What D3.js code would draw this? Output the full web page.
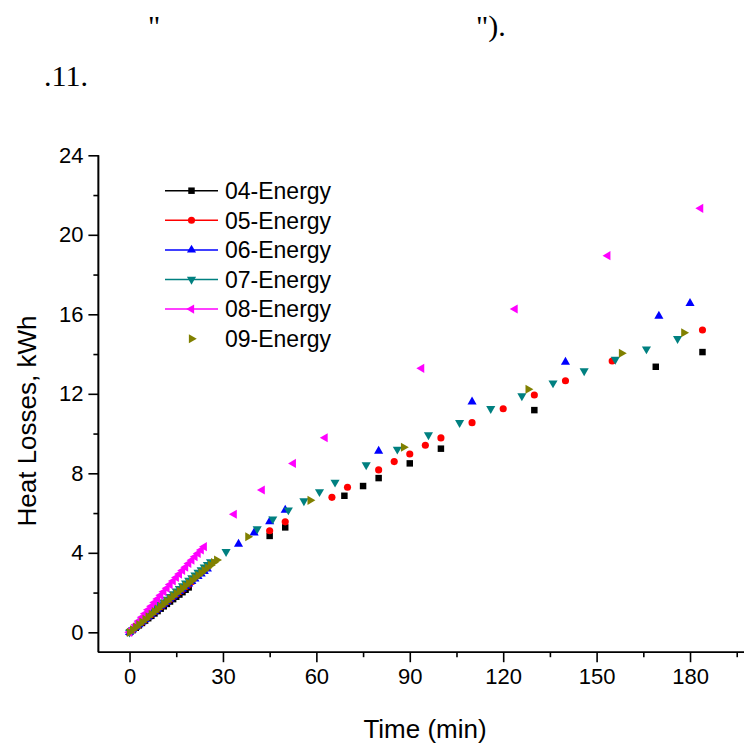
<!DOCTYPE html>
<html>
<head>
<meta charset="utf-8">
<script src="https://cdn.jsdelivr.net/npm/d3@7"></script>
<style>
  body { margin: 0; background: #fff; }
  svg { display: block; }
  text { font-family: "Liberation Sans", Arial, sans-serif; fill: #000; }
  .serif { font-family: "Liberation Serif", "Times New Roman", serif; }
</style>
</head>
<body>
<div id="chart"></div>
<script>
// Series names and colours
var seriesNames = ["04-Energy", "05-Energy", "06-Energy", "07-Energy", "08-Energy", "09-Energy"];
var seriesColors = ["#000000", "#ff0000", "#0000ff", "#008080", "#ff00ff", "#808000"];

// time (min) / heat losses (kWh)
var t04 = [0,1,2,3,4,5,6,7,8,9,10,11,12,13,14,15,16,17,18,19,45,50,69,75,80,90,100,130,169,184];
var e04 = [0,0.11,0.23,0.35,0.47,0.59,0.71,0.83,0.95,1.07,1.19,1.31,1.43,1.55,1.67,1.79,1.90,2.02,2.14,2.26,4.85,5.28,6.87,7.36,7.76,8.50,9.24,11.18,13.36,14.10];

var t05 = [0,1,2,3,4,5,6,7,8,9,10,11,12,13,14,15,16,17,18,19,20,45,50,65,70,80,85,90,95,100,110,120,130,140,155,184];
var e05 = [0,0.12,0.25,0.38,0.51,0.64,0.77,0.90,1.03,1.16,1.29,1.41,1.54,1.66,1.79,1.91,2.04,2.16,2.29,2.41,2.54,5.11,5.56,6.79,7.30,8.17,8.59,8.97,9.41,9.78,10.55,11.25,11.94,12.66,13.65,15.21];

var t06 = [0,1,2,3,4,5,6,7,8,9,10,11,12,13,14,15,16,17,18,19,20,21,22,23,24,25,35,40,45,50,80,110,140,170,180];
var e06 = [0,0.13,0.26,0.39,0.52,0.65,0.78,0.91,1.04,1.17,1.30,1.42,1.55,1.68,1.80,1.93,2.06,2.18,2.31,2.44,2.56,2.69,2.81,2.94,3.07,3.19,4.44,5.01,5.57,6.15,9.12,11.60,13.60,15.91,16.55];

var t07 = [0,1,2,3,4,5,6,7,8,9,10,11,12,13,14,15,16,17,18,19,20,21,22,23,24,25,26,31,41,46,51,56,61,66,76,86,96,106,116,126,136,146,156,166,176];
var e07 = [0,0.14,0.28,0.42,0.56,0.70,0.84,0.97,1.11,1.25,1.39,1.52,1.66,1.80,1.93,2.07,2.20,2.34,2.47,2.61,2.74,2.88,3.01,3.14,3.28,3.41,3.55,4.06,5.20,5.70,6.15,6.61,7.07,7.55,8.42,9.21,9.93,10.55,11.25,11.89,12.54,13.15,13.73,14.25,14.77];

var t08 = [0,1,2,3,4,5,6,7,8,9,10,11,12,13,14,15,16,17,18,19,20,21,22,23,24,33.6,42.6,52.6,62.8,93.8,123.8,153.6,183.4];
var e08 = [0,0.19,0.38,0.57,0.76,0.94,1.13,1.31,1.50,1.68,1.86,2.04,2.22,2.40,2.58,2.76,2.93,3.11,3.28,3.46,3.63,3.80,3.97,4.14,4.31,5.94,7.16,8.50,9.79,13.28,16.27,18.95,21.33];

var t09 = [0,1,2,3,4,5,6,7,8,9,10,11,12,13,14,15,16,17,18,19,20,21,22,23,24,25,26,27,28,38,58,88,128,158,178];
var e09 = [0,0.13,0.26,0.39,0.52,0.65,0.78,0.91,1.04,1.17,1.30,1.43,1.56,1.69,1.82,1.95,2.08,2.21,2.34,2.47,2.60,2.73,2.86,2.99,3.12,3.25,3.38,3.51,3.64,4.81,6.64,9.31,12.23,14.04,15.07];

var timeSeries = [t04, t05, t06, t07, t08, t09];
var energySeries = [e04, e05, e06, e07, e08, e09];

var xMajor = [0, 30, 60, 90, 120, 150, 180];
var xMinor = [15, 45, 75, 105, 135, 165, 195];
var yMajor = [0, 4, 8, 12, 16, 20, 24];
var yMinor = [2, 6, 10, 14, 18, 22];

var width = 744, height = 749;

var svg = d3.select("#chart").append("svg")
    .attr("width", width)
    .attr("height", height);

// stray caption text above the figure
svg.append("text").attr("class", "serif").attr("x", 148).attr("y", 36).style("font-size", "30px").text("\"");
svg.append("text").attr("class", "serif").attr("x", 476).attr("y", 36).style("font-size", "30px").text("\").");
svg.append("text").attr("class", "serif").attr("x", 44).attr("y", 86).style("font-size", "30px").text(".11.");

var x = d3.scaleLinear().domain([-10, 200]).range([98.4, 752.3]);
var y = d3.scaleLinear().domain([-1, 24]).range([652.2, 155.3]);

// axes
var xAxis = svg.append("g").attr("transform", "translate(0," + y(-1) + ")");
xAxis.call(d3.axisBottom(x).tickValues(xMajor).tickSize(10).tickPadding(6).tickFormat(d3.format("d")));
xAxis.append("g").call(d3.axisBottom(x).tickValues(xMinor).tickSize(5).tickFormat(""));

var yAxis = svg.append("g").attr("transform", "translate(" + x(-10) + ",0)");
yAxis.call(d3.axisLeft(y).tickValues(yMajor).tickSize(10).tickPadding(5).tickFormat(d3.format("d")));
yAxis.append("g").call(d3.axisLeft(y).tickValues(yMinor).tickSize(5).tickFormat(""));

svg.selectAll(".domain").attr("stroke", "#000").attr("stroke-width", 1.6);
svg.selectAll(".tick line").attr("stroke", "#000").attr("stroke-width", 1.6);
svg.selectAll(".tick text").style("font-size", "22px").style("font-family", "'Liberation Sans', Arial, sans-serif");
xAxis.selectAll(".domain").attr("d", "M" + x(-10) + ",0H" + width);
yAxis.selectAll(".domain").attr("d", "M0," + y(24) + "V" + y(-1));

svg.append("text")
    .attr("x", 425).attr("y", 738)
    .attr("text-anchor", "middle")
    .style("font-size", "26px")
    .text("Time (min)");

svg.append("text")
    .attr("transform", "translate(36,421) rotate(-90)")
    .attr("text-anchor", "middle")
    .style("font-size", "26px")
    .text("Heat Losses, kWh");

// markers
var symbols = [
  d3.symbol().type(d3.symbolSquare).size(42),
  d3.symbol().type(d3.symbolCircle).size(40),
  d3.symbol().type(d3.symbolTriangle).size(36),
  d3.symbol().type(d3.symbolTriangle).size(36),
  d3.symbol().type(d3.symbolTriangle).size(36),
  d3.symbol().type(d3.symbolTriangle).size(36)
];
var rotations = [0, 0, 0, 180, -90, 90];

function marker(sel, i) {
  sel.attr("d", symbols[i]())
     .attr("fill", seriesColors[i]);
}

timeSeries.forEach(function(ts, i) {
  var pts = ts.map(function(t, k) { return [t, energySeries[i][k]]; });
  svg.append("g").selectAll("path")
    .data(pts)
    .enter().append("path")
      .call(marker, i)
      .attr("transform", function(d) {
        return "translate(" + x(d[0]) + "," + y(d[1]) + ") rotate(" + rotations[i] + ")";
      });
});

// legend
var legend = svg.append("g").selectAll("g")
    .data(seriesNames)
    .enter().append("g")
      .attr("transform", function(d, i) { return "translate(165," + (190.7 + i * 29.6) + ")"; });

legend.filter(function(d, i) { return i < 5; })
  .append("line")
    .attr("x1", 0).attr("x2", 53)
    .attr("stroke", function(d, i) { return seriesColors[i]; })
    .attr("stroke-width", 1.5);

legend.append("path")
    .each(function(d, i) { d3.select(this).call(marker, i).attr("transform", "translate(26.5,0) rotate(" + rotations[i] + ")"); });

legend.append("text")
    .attr("x", 60).attr("dy", "0.36em")
    .style("font-size", "23px")
    .text(function(d) { return d; });
</script>
</body>
</html>
